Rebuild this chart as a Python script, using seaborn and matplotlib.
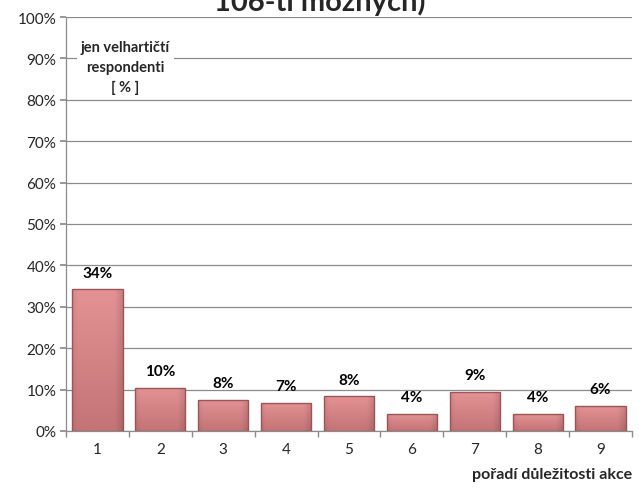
import matplotlib
matplotlib.use("Agg")
import matplotlib.pyplot as plt
import seaborn as sns
import numpy as np
import pandas as pd

categories = ["1", "2", "3", "4", "5", "6", "7", "8", "9"]
values = [34.2, 10.4, 7.6, 6.8, 8.4, 4.1, 9.4, 4.1, 6.0]
labels = ["34%", "10%", "8%", "7%", "8%", "4%", "9%", "4%", "6%"]
yticks = [0, 10, 20, 30, 40, 50, 60, 70, 80, 90, 100]

sns.set_theme(style="white")
plt.rcParams['font.family'] = ['Lato', 'DejaVu Sans']

fig = plt.figure(figsize=(6.39, 4.89), dpi=100)
ax = fig.add_axes([66/639, 57/489, 566/639, 414/489])

df = pd.DataFrame({"cat": categories, "val": values})
sns.barplot(data=df, x="cat", y="val", ax=ax, color="#d98b8d",
            edgecolor="#9a5556", linewidth=1.0, width=0.8, saturation=1)

# gradient / bevel fill for each bar
top_c = np.array([228, 146, 148]) / 255
bot_c = np.array([196, 116, 118]) / 255
for p in ax.patches:
    x0, y0 = p.get_x(), p.get_y()
    w, h = p.get_width(), p.get_height()
    ny, nx = 64, 32
    t = np.linspace(0, 1, ny)[:, None]
    base = top_c[None, None, :] * (1 - t[..., None]) + bot_c[None, None, :] * t[..., None]
    xs = np.linspace(0, 1, nx)[None, :]
    shade = 1 - 0.12 * np.clip((xs - 0.85) / 0.15, 0, 1) - 0.06 * np.clip((0.1 - xs) / 0.1, 0, 1)
    img = np.clip(base * shade[..., None], 0, 1)
    im = ax.imshow(img, extent=[x0, x0 + w, y0, y0 + h], origin="upper",
                   aspect="auto", zorder=2, interpolation="bilinear")
    im.set_clip_path(p)
    p.set_facecolor("none")
    p.set_zorder(3)

for i, (v, lab) in enumerate(zip(values, labels)):
    ax.annotate(lab, (i, v), xytext=(0, 7), textcoords="offset points",
                ha="center", va="bottom", fontsize=11, fontweight="bold", color="black")

ax.set_xlim(-0.5, 8.5)
ax.set_ylim(0, 100)
ax.set_yticks(yticks)
ax.set_yticklabels([f"{t}%" for t in yticks], fontsize=11)
ax.yaxis.grid(True, color="#8c8c8c", linewidth=0.9)
ax.set_axisbelow(True)
ax.tick_params(axis="y", length=4, direction="out", color="#8c8c8c", left=True, pad=3)
ax.tick_params(axis="x", which="major", length=0, labelsize=11, pad=8)
ax.set_xticks(np.arange(-0.5, 9, 1), minor=True)
ax.tick_params(axis="x", which="minor", length=4, direction="out", color="#8c8c8c", bottom=True)
for s in ["top", "right"]:
    ax.spines[s].set_visible(False)
for s in ["left", "bottom"]:
    ax.spines[s].set_color("#8c8c8c")
    ax.spines[s].set_linewidth(0.9)
ax.set_xlabel("")
ax.set_ylabel("")

ax.text(0.105, 0.88, "jen velhartičtí\nrespondenti\n[ % ]", transform=ax.transAxes,
        ha="center", va="center", fontsize=10.5, fontweight="bold", linespacing=1.55,
        bbox=dict(facecolor="white", edgecolor="none", pad=3))

fig.text(632/639, 1 - 479/489, "pořadí důležitosti akce", ha="right", va="baseline",
         fontsize=11.5, fontweight="bold")

fig.text(0.5, 1 - 11/489, "106-ti možných)", ha="center", va="baseline",
         fontsize=21, fontweight="bold")

fig.savefig("out.png", dpi=100)
